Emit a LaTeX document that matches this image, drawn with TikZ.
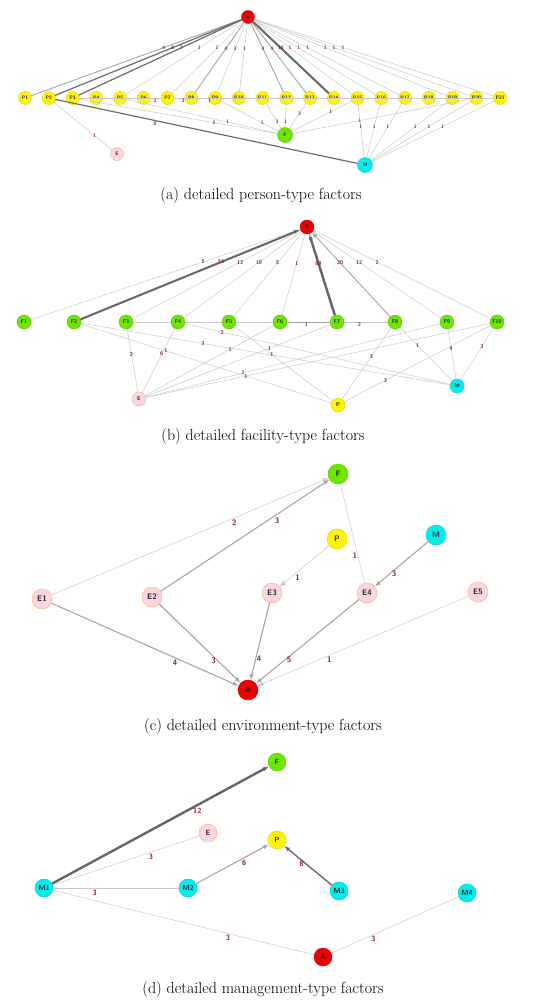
\documentclass[tikz,border=0pt]{standalone}
\usepackage{xcolor}
\usepackage{tikz}
\usetikzlibrary{arrows.meta, positioning}

\definecolor{pyel}{RGB}{255,245,0}
\definecolor{fgrn}{RGB}{110,230,0}
\definecolor{mcyn}{RGB}{0,238,238}
\definecolor{epnk}{RGB}{250,214,228}
\definecolor{ared}{RGB}{240,0,0}
\definecolor{wred}{RGB}{140,30,40}

\begin{document}
\begin{tikzpicture}[
    x=1pt, y=-1pt,
    fac/.style={circle, draw, inner sep=0pt, text=black!85, font=\sffamily\bfseries},
    pfac/.style={fac, fill=pyel, draw=pyel!85!black},
    ffac/.style={fac, fill=fgrn, draw=fgrn!85!black},
    mfac/.style={fac, fill=mcyn, draw=mcyn!85!black},
    efac/.style={fac, fill=epnk, draw=orange!60},
    afac/.style={fac, fill=ared, draw=ared!80!black},
    lbl/.style={inner sep=0.5pt, text=wred, font=\sffamily\bfseries},
    wlite/.style={draw=gray!45, line width=0.45pt},
    wmid/.style={draw=gray!70, line width=0.9pt},
    wdark/.style={draw=gray!85!black, line width=1.2pt},
    wheavy/.style={draw=gray!80!black, line width=2pt},
    arr/.style={-{Latex[length=6pt, width=4.5pt]}},
    wmidarr/.style={wmid, arr},
    wheavyarr/.style={wheavy, arr},
    wmaxarr/.style={wheavy, line width=2.4pt, arr},
    captxt/.style={font=\fontsize{16}{19}\selectfont},
]
\useasboundingbox[fill=white] (0,0) rectangle (542,1000);

% (a) person-type factors
\begin{scope}[fac/.append style={minimum size=13pt, font=\sffamily\bfseries\fontsize{5}{5}\selectfont},
              lbl/.append style={font=\sffamily\bfseries\fontsize{5}{5}\selectfont}]
\node[afac] (aA) at (248,17) {A};
\foreach \i in {1,...,21}
    \node[pfac] (aP\i) at ({25+23.75*(\i-1)},98) {P\i};
\node[ffac, minimum size=15pt] (aF) at (285,135) {F};
\node[efac] (aE) at (117,154) {E};
\node[mfac, minimum size=15pt] (aM) at (365,165) {M};

\foreach \i/\w/\s in {1/4/wmid, 2/6/wdark, 3/7/wdark, 5/1/wlite, 7/1/wlite, 8/4/wmid,
        9/2/wlite, 10/1/wlite, 12/4/wmid, 13/4/wmid, 14/10/wheavy, 15/1/wlite,
        16/1/wlite, 17/1/wlite, 19/1/wlite, 20/1/wlite, 21/1/wlite}
    \draw[\s] (aA) -- node[lbl, pos=0.37] {\w} (aP\i);
\draw[wlite] (aP3) -- node[lbl, pos=0.93, below=0pt] {2} (aP7);
\draw[wlite] (aP7) -- node[lbl, pos=0.06, below=0pt] {2} (aP14);
\draw[wlite] (aP8) -- node[lbl, pos=0.04, below=0pt] {1} (aP21);
\draw[wlite] (aP2) -- node[lbl, pos=0.7] {1} (aE);
\draw[wdark] (aP2) -- node[lbl, pos=0.33, below=0pt] {8} (aM);
\draw[wlite] (aP3) -- node[lbl, pos=0.68] {2} (aF);
\draw[wlite] (aP5) -- node[lbl, pos=0.67] {1} (aF);
\draw[wlite] (aP9) -- node[lbl, pos=0.72] {1} (aF);
\draw[wlite] (aP11) -- node[lbl, pos=0.75] {3} (aF);
\draw[wlite] (aP12) -- node[lbl, pos=0.75] {1} (aF);
\draw[wlite] (aP13) -- node[lbl, pos=0.4] {3} (aF);
\draw[wlite] (aP15) -- node[lbl, pos=0.35] {1} (aF);
\draw[wlite] (aF) -- node[lbl, pos=0.38] {1} (aP20);
\foreach \i in {15,16,17,19,20,21}
    \draw[wlite] (aP\i) -- node[lbl, pos=0.42] {1} (aM);
\end{scope}
\node[captxt] (capA) at (261,196) {(a) detailed person-type factors};

% (b) facility-type factors
\begin{scope}[fac/.append style={minimum size=14pt, font=\sffamily\bfseries\fontsize{5.5}{6}\selectfont},
              lbl/.append style={font=\sffamily\bfseries\fontsize{5.5}{6}\selectfont}]
\node[afac] (bA) at (307,227) {A};
\foreach \i/\x in {1/24, 2/74, 3/126, 4/178, 5/229, 6/280, 7/337, 8/395, 9/447, 10/497}
    \node[ffac] (bF\i) at (\x,322) {F\i};
\node[mfac] (bM) at (457,386) {M};
\node[efac] (bE) at (139,399) {E};
\node[pfac] (bP) at (338,405) {P};

\foreach \i/\w/\s in {1/5/wlite, 2/51/wheavyarr, 3/12/wlite, 4/10/wlite, 5/5/wlite,
        6/1/wlite, 7/60/wmaxarr, 8/20/wmidarr, 9/12/wlite, 10/2/wlite}
    \draw[\s] (bF\i) -- node[lbl, pos=0.64] {\w} (bA);
\draw[wlite] (bF3) -- (bF4);
\draw[wlite] (bF4) -- (bF5);
\draw[wlite] (bF5) -- (bF6);
\draw[wmid] (bF6) -- node[lbl, pos=0.45, below=0pt] {1} (bF7);
\draw[wlite] (bF7) -- node[lbl, pos=0.35, below=0pt] {2} (bF8);
\draw[wlite] (bF2) -- node[lbl, pos=0.33] {3} (bM);
\draw[wlite] (bF2) -- node[lbl, pos=0.34] {1} (bP);
\draw[wlite] (bF3) -- node[lbl, pos=0.4] {2} (bE);
\draw[wlite] (bF4) -- node[lbl, pos=0.4] {6} (bE);
\draw[wlite] (bF4) -- node[lbl, pos=0.14] {2} (bM);
\draw[wlite] (bE) -- node[lbl, pos=0.66] {1} (bF6);
\draw[wlite] (bE) -- node[lbl, pos=0.67] {1} (bF7);
\draw[wlite] (bE) -- node[lbl, pos=0.33] {1} (bF9);
\draw[wlite] (bE) -- node[lbl, pos=0.29] {1} (bF10);
\draw[wlite] (bF5) -- node[lbl, pos=0.38] {1} (bP);
\draw[wlite] (bF8) -- node[lbl, pos=0.4] {3} (bP);
\draw[wlite] (bF8) -- node[lbl, pos=0.34] {1} (bM);
\draw[wlite] (bF9) -- node[lbl, pos=0.4] {4} (bM);
\draw[wlite] (bF10) -- node[lbl, pos=0.35] {3} (bM);
\draw[wlite] (bF10) -- node[lbl, pos=0.72] {3} (bP);
\end{scope}
\node[captxt] (capB) at (263,437) {(b) detailed facility-type factors};

% (c) environment-type factors
\begin{scope}[fac/.append style={minimum size=20pt, font=\sffamily\bfseries\fontsize{8}{9}\selectfont},
              lbl/.append style={font=\sffamily\bfseries\fontsize{8}{9}\selectfont}]
\node[ffac] (cF) at (338,474) {F};
\node[pfac] (cP) at (337,539) {P};
\node[mfac] (cM) at (436,535) {M};
\node[efac] (cE1) at (42,599) {E1};
\node[efac] (cE2) at (152,597) {E2};
\node[efac] (cE3) at (272,593) {E3};
\node[efac] (cE4) at (367,593) {E4};
\node[efac] (cE5) at (478,592) {E5};
\node[afac] (cA) at (248,690) {A};

\draw[wlite, arr] (cE1) -- node[lbl, pos=0.66, below=1pt] {2} (cF);
\draw[wmid, line width=1.1pt, arr] (cE2) -- node[lbl, pos=0.67, below right=0pt] {3} (cF);
\draw[wlite] (cF) -- node[lbl, pos=0.72, left=0pt] {1} (cE4);
\draw[wmid, line width=1.1pt, arr] (cM) -- node[lbl, pos=0.72, right=1pt] {3} (cE4);
\draw[wlite, arr] (cP) -- node[lbl, pos=0.7, below right=0pt] {1} (cE3);
\draw[wmid, line width=1.1pt, arr] (cE1) -- node[lbl, pos=0.66, below=1pt] {4} (cA);
\draw[wmid, line width=1.1pt, arr] (cE2) -- node[lbl, pos=0.72, left=1pt] {3} (cA);
\draw[wmid, line width=1.1pt, arr] (cE3) -- node[lbl, pos=0.72, right=0pt] {4} (cA);
\draw[wmid, line width=1.1pt, arr] (cE4) -- node[lbl, pos=0.72, right=1pt] {5} (cA);
\draw[wlite, arr] (cE5) -- node[lbl, pos=0.66, below=1pt] {1} (cA);
\end{scope}
\node[captxt] (capC) at (263,726) {(c) detailed environment-type factors};

% (d) management-type factors
\begin{scope}[fac/.append style={minimum size=18pt, font=\sffamily\bfseries\fontsize{7.5}{8}\selectfont},
              lbl/.append style={font=\sffamily\bfseries\fontsize{7.5}{8}\selectfont}]
\node[ffac] (dF) at (277,762) {F};
\node[efac] (dE) at (208,833) {E};
\node[pfac] (dP) at (277,840) {P};
\node[mfac] (dM1) at (44,888) {M1};
\node[mfac] (dM2) at (188,888) {M2};
\node[mfac] (dM3) at (339,891) {M3};
\node[mfac] (dM4) at (467,893) {M4};
\node[afac] (dA) at (323,957) {A};

\draw[wmaxarr] (dM1) -- node[lbl, pos=0.67, below=1pt] {12} (dF);
\draw[wlite] (dM1) -- node[lbl, pos=0.67, below=1pt] {3} (dE);
\draw[wlite] (dM1) -- node[lbl, pos=0.33, below=1pt] {3} (dM2);
\draw[wmid, line width=1.1pt, arr] (dM2) -- node[lbl, pos=0.66, below=1pt] {6} (dP);
\draw[wdark, line width=1.4pt, arr] (dM3) -- node[lbl, pos=0.55, left=1pt] {8} (dP);
\draw[wlite] (dM1) -- node[lbl, pos=0.67, below=1pt] {3} (dA);
\draw[wlite] (dA) -- node[lbl, pos=0.33, below=1pt] {3} (dM4);
\end{scope}
\node[captxt] (capD) at (263,989) {(d) detailed management-type factors};
\end{tikzpicture}
\end{document}
